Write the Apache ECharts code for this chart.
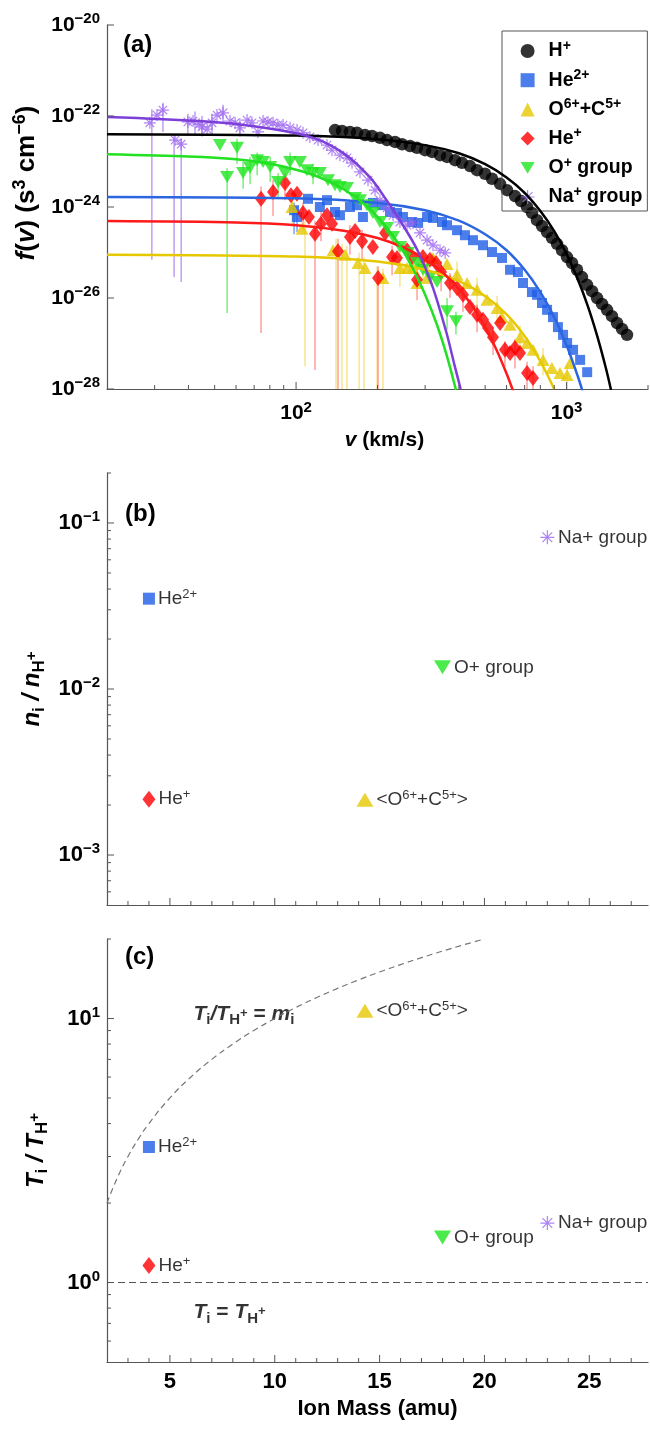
<!DOCTYPE html>
<html>
<head>
<meta charset="utf-8">
<script src="https://cdn.jsdelivr.net/npm/echarts@6/dist/echarts.min.js"></script>
<style>html,body{margin:0;padding:0;background:#fff}</style>
</head>
<body>
<div id="main" style="width:650px;height:1435px;"></div>
<script>
// ---- panel (a): f(v) points, [v km/s, log10 f]
const hPts = [[139.3,-22.31],[147.9,-22.33],[158.2,-22.35],[168.0,-22.37],[179.8,-22.42],[190.9,-22.44],[204.3,-22.48],[216.8,-22.53],[232.2,-22.57],[246.5,-22.62],[263.8,-22.66],[280.0,-22.70],[299.7,-22.75],[318.2,-22.79],[340.5,-22.86],[361.5,-22.90],[386.9,-22.97],[410.6,-23.03],[439.5,-23.10],[466.6,-23.19],[499.4,-23.27],[530.0,-23.38],[567.6,-23.49],[602.3,-23.63],[644.6,-23.76],[678.4,-23.87],[714.0,-24.00],[745.2,-24.13],[777.4,-24.29],[811.2,-24.42],[846.4,-24.55],[883.3,-24.68],[921.7,-24.81],[962.0,-24.95],[1003.7,-25.10],[1047,-25.23],[1093,-25.38],[1140,-25.54],[1190,-25.71],[1242,-25.85],[1296,-26.00],[1352,-26.13],[1411,-26.26],[1472,-26.40],[1536,-26.55],[1603,-26.68],[1673,-26.81]];
const he2Pts = [[98.3,-24.07],[100.8,-24.22],[110.7,-23.82],[122.5,-24.00],[130.1,-23.85],[139.3,-24.11],[145.3,-24.18],[158.2,-24.00],[168.0,-23.96],[176.7,-24.22],[192.3,-23.91],[208.0,-23.96],[222.5,-24.11],[236.1,-24.13],[248.4,-24.22],[268.5,-24.33],[282.6,-24.35],[304.9,-24.22],[320.7,-24.24],[346.3,-24.33],[361.5,-24.40],[393.6,-24.51],[421.0,-24.62],[450.9,-24.73],[490.9,-24.84],[530.0,-24.99],[577.1,-25.12],[618.0,-25.38],[661.0,-25.43],[690.2,-25.67],[744.8,-25.87],[778.0,-25.93],[811.2,-26.11],[847.1,-26.26],[891.1,-26.42],[929.0,-26.64],[970.5,-26.81],[1004.6,-26.99],[1056.7,-27.14],[1122.4,-27.36],[1191.6,-27.63]];
const ocPts = [[96.6,-24.00],[105.2,-24.48],[137.0,-24.95],[151.7,-25.05],[169.5,-25.23],[179.9,-25.34],[209.5,-25.56],[242.1,-25.34],[257.1,-25.34],[270.4,-25.34],[280.0,-25.67],[294.5,-25.23],[304.9,-25.56],[320.7,-25.12],[361.5,-25.25],[393.6,-25.49],[428.7,-25.67],[466.8,-25.82],[508.3,-26.04],[553.4,-26.22],[577.1,-26.42],[618.0,-26.59],[672.7,-26.86],[714.4,-26.99],[751.5,-27.14],[818.5,-27.36],[883.0,-27.54],[945.6,-27.65],[1004.6,-27.69],[1030.5,-27.43]];
const he1Pts = [[74.2,-23.82],[82.2,-23.67],[91.0,-23.47],[95.7,-23.74],[100.8,-23.71],[106.1,-24.13],[111.6,-24.22],[117.5,-24.59],[123.6,-24.37],[130.1,-24.18],[135.8,-24.37],[142.9,-24.97],[158.2,-24.66],[165.2,-24.53],[175.4,-24.75],[192.3,-24.88],[201.0,-25.56],[213.4,-24.57],[226.4,-25.10],[236.1,-25.12],[257.1,-24.95],[268.5,-25.10],[280.0,-25.60],[294.5,-25.10],[312.7,-25.16],[329.2,-25.23],[343.6,-25.43],[370.8,-25.67],[393.6,-25.78],[414.1,-25.93],[439.6,-26.20],[466.8,-26.37],[490.9,-26.48],[512.7,-26.66],[534.6,-26.86],[567.6,-26.55],[591.8,-27.14],[618.0,-27.21],[644.5,-27.10],[672.7,-27.21],[714.4,-27.65],[751.5,-27.76]];
const opPts = [[52.3,-22.64],[55.6,-23.34],[60.5,-22.70],[63.7,-23.25],[67.6,-23.14],[71.8,-22.97],[75.5,-23.01],[80.2,-23.12],[85.8,-23.45],[91.0,-23.25],[95.0,-23.01],[103.3,-23.01],[109.7,-23.19],[115.5,-23.25],[122.5,-23.25],[131.2,-23.41],[139.3,-23.52],[145.3,-23.56],[154.2,-23.58],[165.2,-23.80],[172.3,-23.85],[182.9,-23.96],[192.3,-24.13],[204.3,-24.33],[216.9,-24.46],[228.3,-24.66],[242.1,-24.88],[259.4,-25.01],[280.0,-25.23],[294.5,-25.38],[312.7,-25.54],[332.0,-25.65],[361.5,-26.29],[390.0,-26.51]];
const naPts = [[28.8,-22.15],[30.6,-21.98],[32.2,-21.87],[35.7,-22.53],[37.6,-22.62],[39.8,-22.13],[41.6,-22.11],[43.8,-22.18],[44.9,-22.24],[46.9,-22.29],[48.9,-22.15],[51.0,-21.98],[53.7,-21.93],[57.0,-22.11],[59.5,-22.15],[62.0,-22.26],[65.9,-22.09],[68.7,-22.15],[72.3,-22.35],[75.5,-22.11],[78.7,-22.13],[82.2,-22.15],[85.7,-22.20],[89.5,-22.20],[95.0,-22.26],[100.8,-22.31],[106.1,-22.37],[112.5,-22.46],[120.5,-22.53],[130.1,-22.64],[135.8,-22.75],[145.3,-22.86],[154.2,-22.92],[161.0,-23.03],[172.3,-23.23],[184.5,-23.41],[195.8,-23.63],[204.3,-23.85],[216.9,-24.02],[228.3,-24.18],[242.1,-24.33],[257.1,-24.40],[270.4,-24.35],[287.2,-24.57],[304.9,-24.73],[320.7,-24.84],[340.5,-24.95],[355.7,-25.01]];

// error bars [v, log10 low, log10 high]
const he2Err = [[98.3,-24.60,-23.90],[100.8,-24.55,-24.00]];
const ocErr = [[96.6,-24.40,-23.70],[107.9,-27.50,-24.30],[140.5,-28,-24.70],[147.8,-28,-24.80],[154.2,-28,-24.85],[171.0,-28,-25.00],[178.3,-28,-25.10],[199.2,-28,-25.30],[209.5,-28,-25.35],[242.1,-25.75,-25.00],[294.5,-25.60,-24.95],[393.6,-25.95,-25.20],[466.8,-26.25,-25.55],[553.4,-26.60,-25.95],[672.7,-27.20,-26.60],[818.5,-27.70,-27.10],[1004.6,-28,-27.45]];
const he1Err = [[74.2,-26.77,-23.55],[82.2,-24.20,-23.40],[91.0,-23.85,-23.25],[106.1,-24.50,-23.90],[117.5,-27.58,-24.30],[123.6,-24.75,-24.10],[142.9,-28,-24.70],[158.2,-25.05,-24.40],[175.4,-25.15,-24.50],[201.0,-28,-25.30],[226.4,-25.50,-24.85],[280.0,-26.05,-25.35],[343.6,-25.85,-25.20],[370.8,-26.00,-25.45],[414.1,-26.30,-25.75],[466.8,-26.75,-26.15],[534.6,-27.25,-26.65],[591.8,-27.50,-26.95],[644.5,-27.55,-26.90],[714.4,-28,-27.40],[751.5,-28,-27.50]];
const opErr = [[55.6,-26.33,-23.15],[60.5,-23.05,-22.50],[63.7,-23.60,-23.00],[67.6,-23.50,-22.90],[71.8,-23.30,-22.80],[80.2,-23.45,-22.90],[85.8,-23.80,-23.25],[95.0,-23.30,-22.80],[115.5,-23.50,-23.05],[361.5,-26.70,-26.00],[390.0,-26.80,-26.30]];
const naErr = [[29.3,-25.16,-21.85],[32.2,-22.35,-21.71],[35.4,-25.54,-22.40],[37.6,-25.65,-22.50],[39.8,-22.40,-21.95],[42.3,-22.40,-21.90],[44.9,-22.45,-22.00],[48.9,-22.40,-21.95],[53.7,-22.15,-21.75],[62.0,-22.45,-22.05]];

// fitted curves [v, log10 f]
const hFit = [[20,-22.40],[100,-22.43],[200,-22.51],[300,-22.64],[400,-22.82],[500,-23.06],[600,-23.35],[700,-23.69],[800,-24.09],[900,-24.53],[1000,-25.03],[1100,-25.59],[1200,-26.19],[1300,-26.85],[1400,-27.56],[1460,-28.02]];
const he2Fit = [[20,-23.78],[100,-23.81],[200,-23.91],[300,-24.07],[400,-24.30],[500,-24.60],[600,-24.95],[700,-25.38],[800,-25.87],[900,-26.42],[1000,-27.04],[1100,-27.72],[1150,-28.08]];
const ocFit = [[20,-25.05],[100,-25.09],[200,-25.20],[300,-25.38],[400,-25.63],[500,-25.96],[600,-26.36],[700,-26.84],[800,-27.39],[900,-28.0]];
const he1Fit = [[20,-24.31],[60,-24.34],[100,-24.40],[150,-24.52],[200,-24.68],[250,-24.89],[300,-25.15],[350,-25.45],[400,-25.80],[450,-26.19],[500,-26.64],[550,-27.13],[600,-27.66],[635,-28.05]];
const opFit = [[20,-22.84],[40,-22.89],[60,-22.95],[80,-23.05],[100,-23.18],[120,-23.33],[150,-23.61],[180,-23.95],[210,-24.36],[240,-24.82],[270,-25.35],[300,-25.93],[330,-26.55],[360,-27.25],[390,-28.02]];
const naFit = [[20,-22.02],[44,-22.11],[73,-22.24],[113,-22.46],[149,-22.81],[187,-23.34],[216,-23.85],[242,-24.29],[281,-24.95],[320,-25.76],[360,-26.77],[385,-27.47],[406,-28.0]];

// ---- panels (b) and (c)
const ionNames = ['He2+', 'He+', 'O6++C5+', 'O+ group', 'Na+ group'];
const ionMass = [4, 4, 14.3, 18, 23];
const densityRatio = [0.035, 0.00217, 0.00215, 0.0135, 0.082];
const tempRatio = [3.26, 1.16, 10.7, 1.48, 1.68];
const massLine = [2, 2.5, 3, 3.5, 4, 5, 6, 7, 8, 9, 10, 11, 12, 13, 14, 15, 16, 17, 18, 19, 20];
const equalTempLine = [1, 1];

// f(v) is tiny (1e-28); plot it scaled by 1e30 so the log axis stays well conditioned, labels undo it
const SHIFT = 30;
const F = "'Liberation Sans', Arial, sans-serif";
const COL = { h: '#000000', he2: '#1f5ee6', oc: '#e6c800', he1: '#ff0000', op: '#1ee61e', na: '#9c66f0' };
const LINE = { h: '#000000', he2: '#2b66e0', oc: '#e6c800', he1: '#ff1a1a', op: '#22e022', na: '#7c3fd8' };
const ERR = { he2: 'rgba(40,100,230,0.7)', oc: 'rgba(235,205,40,0.6)', he1: 'rgba(255,70,70,0.6)', op: 'rgba(40,225,40,0.7)', na: 'rgba(150,95,235,0.7)' };
const SYM_DOWN = 'path://M0,0L12,0L6,10Z';
const SYM_AST = 'path://M6,0L6,12M0,6L12,6M1.8,1.8L10.2,10.2M1.8,10.2L10.2,1.8';

function richSet(base, small) {
    return {
        b: { fontFamily: F, fontSize: base, fontWeight: 'bold', color: '#000' },
        bi: { fontFamily: F, fontSize: base, fontWeight: 'bold', fontStyle: 'italic', color: '#000' },
        s: { fontFamily: F, fontSize: small, fontWeight: 'bold', color: '#000', padding: [0, 0, Math.round(base * 0.55), 0] },
        sub: { fontFamily: F, fontSize: small, fontWeight: 'bold', color: '#000', padding: [Math.round(base * 0.55), 0, 0, 0] },
        sp: { fontFamily: F, fontSize: small - 2, fontWeight: 'bold', color: '#000', padding: [0, 0, 2, 0] },
        r: { fontFamily: F, fontSize: 13, color: '#000', padding: [0, 0, 9, 0] }
    };
}
const RICH_A = richSet(21, 15);
const RICH_BC = richSet(22, 15);
const RICH_T = richSet(24, 17);
const RICH_N = richSet(21, 15);

function toF(arr) { return arr.map(p => [p[0], Math.pow(10, p[1] + SHIFT)]); }
function decadeLabel(every, shift) {
    return function (v) {
        const l = Math.log10(v), e = Math.round(l);
        if (Math.abs(l - e) > 1e-6 || (e - shift) % every !== 0) return '';
        const x = e - shift;
        return '{b|10}{s|' + (x < 0 ? '\u2212' + (-x) : x) + '}';
    };
}
function tickSeries(xi, yi, pts, dir, len) {
    return {
        type: 'custom', xAxisIndex: xi, yAxisIndex: yi, silent: true, z: 6,
        renderItem: function (params, api) {
            const p = api.coord([api.value(0), api.value(1)]);
            const shape = dir === 'x'
                ? { x1: p[0], y1: p[1], x2: p[0], y2: p[1] - len }
                : { x1: p[0], y1: p[1], x2: p[0] + len, y2: p[1] };
            return { type: 'line', shape: shape, style: { stroke: '#555', lineWidth: 1 } };
        },
        data: pts
    };
}
function errSeries(arr, color) {
    return {
        type: 'custom', xAxisIndex: 0, yAxisIndex: 0, silent: true, z: 1,
        renderItem: function (params, api) {
            const a = api.coord([api.value(0), api.value(1)]);
            const b = api.coord([api.value(0), api.value(2)]);
            return { type: 'line', shape: { x1: a[0], y1: a[1], x2: b[0], y2: b[1] }, style: { stroke: color, lineWidth: 1.3 } };
        },
        encode: { x: 0, y: [1, 2] },
        data: arr.map(e => [e[0], Math.pow(10, e[1] + SHIFT), Math.pow(10, e[2] + SHIFT)])
    };
}
function fitSeries(arr, color) {
    return {
        type: 'line', xAxisIndex: 0, yAxisIndex: 0, data: toF(arr), showSymbol: false, smooth: 0.3,
        lineStyle: { color: color, width: 2.5 }, z: 4, silent: true
    };
}

// tick values
const aXMajor = [100, 1000];
const aXMinor = [30, 40, 50, 60, 70, 80, 90, 200, 300, 400, 500, 600, 700, 800, 900, 2000];
const aYMajor = [-28, -26, -24, -22, -20];
const bYMajor = [1e-3, 1e-2, 1e-1];
const bYMinor = [6e-4, 7e-4, 8e-4, 9e-4, 2e-3, 3e-3, 4e-3, 5e-3, 6e-3, 7e-3, 8e-3, 9e-3, 2e-2, 3e-2, 4e-2, 5e-2, 6e-2, 7e-2, 8e-2, 9e-2, 2e-1];
const cYMajor = [1, 10];
const cYMinor = [0.6, 0.7, 0.8, 0.9, 2, 3, 4, 5, 6, 7, 8, 9, 20];
const massMajor = [5, 10, 15, 20, 25];
const massMinor = [3, 4, 6, 7, 8, 9, 11, 12, 13, 14, 16, 17, 18, 19, 21, 22, 23, 24, 26, 27];

const yMinA = Math.pow(10, -28 + SHIFT), yMaxA = Math.pow(10, -20 + SHIFT);
const axisLine = { lineStyle: { color: '#555', width: 1.2 } };
const chart = echarts.init(document.getElementById('main'));

const ionStyle = [
    { symbol: 'rect', size: 12, item: { color: COL.he2 }, label: 'He{r|2+}' },
    { symbol: 'diamond', size: [13, 17], item: { color: COL.he1 }, label: 'He{r|+}' },
    { symbol: 'triangle', size: [17, 14], item: { color: COL.oc }, label: '<O{r|6+}+C{r|5+}>' },
    { symbol: SYM_DOWN, size: [17, 14], item: { color: COL.op }, label: 'O+ group' },
    { symbol: SYM_AST, size: 14, item: { color: 'rgba(0,0,0,0)', borderColor: COL.na, borderWidth: 1.2 }, label: 'Na+ group' }
];
function ionSeries(panel, values) {
    return ionNames.map((n, i) => ({
        type: 'scatter', name: panel + n, xAxisIndex: panel === 'b' ? 1 : 2, yAxisIndex: panel === 'b' ? 1 : 2,
        data: [[ionMass[i], values[i]]], symbol: ionStyle[i].symbol, symbolSize: ionStyle[i].size,
        itemStyle: ionStyle[i].item, z: 5,
        label: { show: true, position: 'right', distance: 3, fontFamily: F, fontSize: 19, color: '#000',
            formatter: ionStyle[i].label, rich: RICH_BC }
    }));
}

const legendText = { 'H+': 'H{s|+}', 'He2+': 'He{s|2+}', 'O6++C5+': 'O{s|6+}+C{s|5+}', 'He+': 'He{s|+}', 'O+ group': 'O{s|+} group', 'Na+ group': 'Na{s|+} group' };
const panelTitle = { fontFamily: F, fontSize: 24, fontWeight: 'bold', color: '#000' };

const option = {
    animation: false,
    backgroundColor: '#fff',
    title: [
        { text: '(a)', left: 118, top: 28, textStyle: panelTitle },
        { text: '(b)', left: 120, top: 497, textStyle: panelTitle },
        { text: '(c)', left: 120, top: 940, textStyle: panelTitle }
    ],
    legend: {
        orient: 'vertical', left: 502, top: 31, padding: [8, 5, 4, 18], itemGap: 7.2,
        itemWidth: 14, itemHeight: 14, borderColor: '#555', borderWidth: 1,
        data: [
            { name: 'H+' }, { name: 'He2+' }, { name: 'O6++C5+' }, { name: 'He+' }, { name: 'O+ group' },
            { name: 'Na+ group', itemStyle: { color: 'rgba(0,0,0,0)', borderColor: COL.na, borderWidth: 1.2 } }
        ],
        formatter: n => legendText[n],
        textStyle: { fontFamily: F, fontSize: 19.5, fontWeight: 'bold', color: '#000', padding: [0, 0, 0, 9],
            rich: { s: { fontFamily: F, fontSize: 14, fontWeight: 'bold', color: '#000', padding: [0, 0, 10, 0] } } }
    },
    grid: [
        { left: 107, top: 25, width: 541, height: 364 },
        { left: 107, top: 473, width: 541, height: 432 },
        { left: 107, top: 939, width: 541, height: 423 }
    ],
    xAxis: [
        { type: 'log', gridIndex: 0, min: 20, max: 2000, logBase: 10, axisLine: axisLine, axisTick: { show: false }, splitLine: { show: false },
          axisLabel: { margin: 11, formatter: decadeLabel(1, 0), rich: RICH_A, showMinLabel: false, showMaxLabel: false },
          name: '{bi|v}{b| (km/s)}', nameLocation: 'middle', nameGap: 41,
          nameTextStyle: { rich: RICH_A, padding: [0, 0, 0, 14] } },
        { type: 'value', gridIndex: 1, min: 2, max: 27.8, axisLine: axisLine, axisTick: { show: false }, splitLine: { show: false },
          axisLabel: { show: false } },
        { type: 'value', gridIndex: 2, min: 2, max: 27.8, axisLine: axisLine, axisTick: { show: false }, splitLine: { show: false },
          axisLabel: { margin: 9, customValues: massMajor, fontFamily: F, fontSize: 22, fontWeight: 'bold', color: '#000' },
          name: 'Ion Mass (amu)', nameLocation: 'middle', nameGap: 36,
          nameTextStyle: { fontFamily: F, fontSize: 22, fontWeight: 'bold', color: '#000' } }
    ],
    yAxis: [
        { type: 'log', gridIndex: 0, min: yMinA, max: yMaxA, logBase: 10, axisLine: axisLine, axisTick: { show: false }, splitLine: { show: false },
          axisLabel: { margin: 7, formatter: decadeLabel(2, SHIFT), rich: RICH_A, showMinLabel: true, showMaxLabel: true },
          name: '{bi|f}{b|(}{bi|v}{b|) (s}{s|3}{b| cm}{s|\u22126}{b|)}', nameLocation: 'middle', nameGap: 55,
          nameTextStyle: { rich: richSet(26, 18), padding: [0, 0, 0, 48] } },
        { type: 'log', gridIndex: 1, min: 5e-4, max: 0.2, logBase: 10, axisLine: axisLine, axisTick: { show: false }, splitLine: { show: false },
          axisLabel: { margin: 7, formatter: decadeLabel(1, 0), rich: RICH_BC, showMinLabel: false, showMaxLabel: false },
          name: '{bi|n}{sub|i}{bi| / n}{sub|H}{sp|+}', nameLocation: 'middle', nameGap: 56, nameTextStyle: { rich: RICH_T } },
        { type: 'log', gridIndex: 2, min: 0.5, max: 20, logBase: 10, axisLine: axisLine, axisTick: { show: false }, splitLine: { show: false },
          axisLabel: { margin: 7, formatter: decadeLabel(1, 0), rich: RICH_BC, showMinLabel: false, showMaxLabel: false },
          name: '{bi|T}{sub|i}{bi| / T}{sub|H}{sp|+}', nameLocation: 'middle', nameGap: 56, nameTextStyle: { rich: RICH_T } }
    ],
    series: [
        errSeries(he2Err, ERR.he2), errSeries(ocErr, ERR.oc), errSeries(he1Err, ERR.he1),
        errSeries(opErr, ERR.op), errSeries(naErr, ERR.na),
        { type: 'scatter', name: 'H+', data: toF(hPts), symbol: 'circle', symbolSize: 12.5, itemStyle: { color: COL.h }, z: 3 },
        { type: 'scatter', name: 'He2+', data: toF(he2Pts), symbol: 'rect', symbolSize: 10, itemStyle: { color: COL.he2 }, z: 3 },
        { type: 'scatter', name: 'O6++C5+', data: toF(ocPts), symbol: 'triangle', symbolSize: [13, 12], itemStyle: { color: COL.oc }, z: 3 },
        { type: 'scatter', name: 'He+', data: toF(he1Pts), symbol: 'diamond', symbolSize: [12, 16], itemStyle: { color: COL.he1 }, z: 3 },
        { type: 'scatter', name: 'O+ group', data: toF(opPts), symbol: SYM_DOWN, symbolSize: [14, 12], itemStyle: { color: COL.op }, z: 3 },
        { type: 'scatter', name: 'Na+ group', data: toF(naPts), symbol: SYM_AST, symbolSize: 12,
          itemStyle: { color: 'rgba(0,0,0,0)', borderColor: COL.na, borderWidth: 1.2 }, z: 3 },
        fitSeries(hFit, LINE.h), fitSeries(he2Fit, LINE.he2), fitSeries(ocFit, LINE.oc),
        fitSeries(he1Fit, LINE.he1), fitSeries(opFit, LINE.op), fitSeries(naFit, LINE.na),
        // axis ticks
        tickSeries(0, 0, aXMajor.map(v => [v, yMinA]), 'x', 7),
        tickSeries(0, 0, aXMinor.map(v => [v, yMinA]), 'x', 4),
        tickSeries(0, 0, aYMajor.map(e => [20, Math.pow(10, e + SHIFT)]), 'y', 7),
        tickSeries(1, 1, bYMajor.map(v => [2, v]), 'y', 7),
        tickSeries(1, 1, bYMinor.map(v => [2, v]), 'y', 4),
        tickSeries(1, 1, massMajor.map(v => [v, 5e-4]), 'x', 7),
        tickSeries(1, 1, massMinor.map(v => [v, 5e-4]), 'x', 4),
        tickSeries(2, 2, cYMajor.map(v => [2, v]), 'y', 7),
        tickSeries(2, 2, cYMinor.map(v => [2, v]), 'y', 4),
        tickSeries(2, 2, massMajor.map(v => [v, 0.5]), 'x', 7),
        tickSeries(2, 2, massMinor.map(v => [v, 0.5]), 'x', 4),
        // reference lines in (c)
        { type: 'line', xAxisIndex: 2, yAxisIndex: 2, data: massLine.map(m => [m, m]), showSymbol: false, smooth: true, silent: true,
          lineStyle: { color: '#777', width: 1.2, type: [6, 4] } },
        { type: 'line', xAxisIndex: 2, yAxisIndex: 2, data: [[2, equalTempLine[0]], [27.8, equalTempLine[1]]], showSymbol: false, silent: true,
          lineStyle: { color: '#555', width: 1.2, type: [7, 4] } },
        { type: 'scatter', xAxisIndex: 2, yAxisIndex: 2, data: [[6.1, 10.4]], symbolSize: 1, itemStyle: { color: 'rgba(0,0,0,0)' }, silent: true,
          label: { show: true, position: 'right', distance: 0, formatter: '{bi|T}{sub|i}{bi|/T}{sub|H}{sp|+}{b| = }{bi|m}{sub|i}', rich: RICH_N } },
        { type: 'scatter', xAxisIndex: 2, yAxisIndex: 2, data: [[6.1, 0.77]], symbolSize: 1, itemStyle: { color: 'rgba(0,0,0,0)' }, silent: true,
          label: { show: true, position: 'right', distance: 0, formatter: '{bi|T}{sub|i}{b| = }{bi|T}{sub|H}{sp|+}', rich: RICH_N } }
    ].concat(ionSeries('b', densityRatio), ionSeries('c', tempRatio))
};
chart.setOption(option);
</script>
</body>
</html>
